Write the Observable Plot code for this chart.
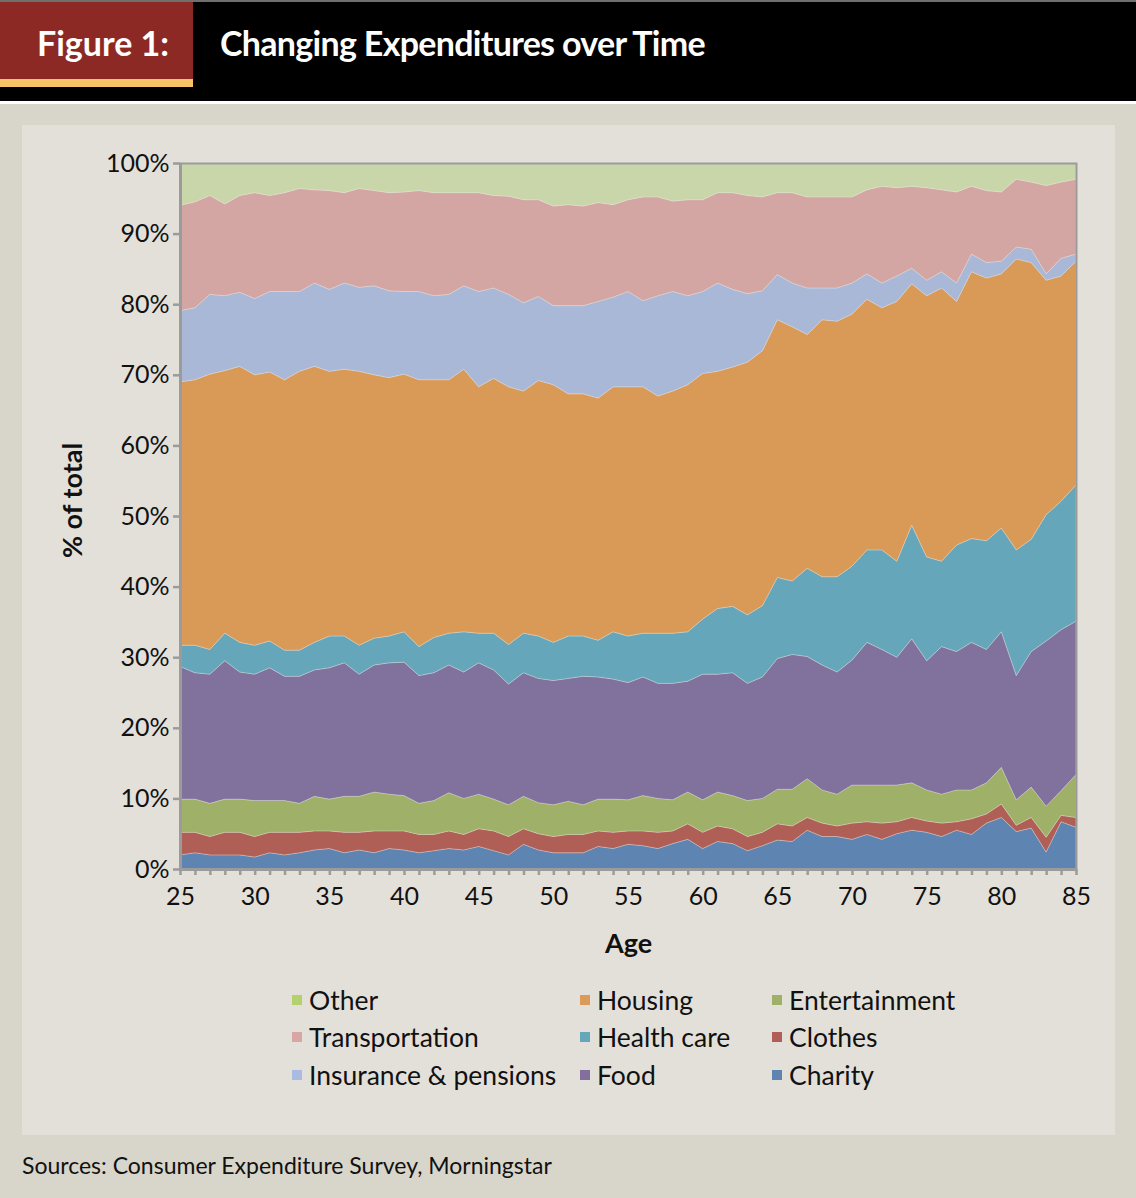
<!DOCTYPE html>
<html>
<head>
<meta charset="utf-8">
<script src="https://cdn.jsdelivr.net/npm/d3@7"></script>
<script src="https://cdn.jsdelivr.net/npm/@observablehq/plot@0.6"></script>
<style>
  body { margin: 0; background: #d8d5ca; }
  #page { position: relative; width: 1136px; height: 1198px; background: #d8d5ca; overflow: hidden; font-family: Lato, "Open Sans", sans-serif; color: #111; }
  .abs { position: absolute; }
  #band { left: 0; top: 0; width: 1136px; height: 101px; background: #000; border-top: 2px solid #6f6f6f; box-sizing: border-box; }
  #redbox { left: 0; top: 2px; width: 193px; height: 77px; background: #8c2925; }
  #gold { left: 0; top: 79px; width: 193px; height: 8px; background: #f6c466; }
  #wline { left: 0; top: 101px; width: 1136px; height: 3px; background: #ffffff; }
  #panel { left: 22px; top: 125px; width: 1093px; height: 1010px; background: #e3e0d9; }
  .hdrtxt { color: #fff; font-weight: 700; font-size: 34px; line-height: 1; white-space: nowrap; }
  #chart { left: 0; top: 125px; }
  .leg { position: absolute; height: 30px; display: flex; align-items: center; font-size: 26.5px; line-height: 1; white-space: nowrap; color: #111; }
  .leg .sw { width: 10px; height: 10px; margin-right: 7px; flex: none; }
  #src { left: 22px; top: 1154px; font-size: 23px; line-height: 1; white-space: nowrap; color: #111; }
</style>
</head>
<body>
<div id="page">
  <div id="band" class="abs"></div>
  <div id="redbox" class="abs"></div>
  <div id="gold" class="abs"></div>
  <div id="wline" class="abs"></div>
  <div class="abs hdrtxt" style="left:37px; top:26px; letter-spacing:0px;">Figure 1:</div>
  <div class="abs hdrtxt" style="left:220px; top:26px; letter-spacing:-0.7px;">Changing Expenditures over Time</div>
  <div id="panel" class="abs"></div>
  <div id="chart" class="abs"></div>
  <div id="legend"></div>
  <div id="src" class="abs">Sources: Consumer Expenditure Survey, Morningstar</div>
</div>
<script>
// Ages 25..85
const ages = d3.range(25, 86);

// Share of total expenditure (%) per age
const charity = [2.0,2.3,2.0,2.0,2.0,1.7,2.3,2.0,2.3,2.7, 2.9,2.3,2.7,2.3,2.9,2.7,2.3,2.6,2.9,2.7, 3.2,2.6,2.0,3.5,2.7,2.3,2.3,2.3,3.2,2.9, 3.5,3.3,2.9,3.6,4.2,2.9,3.9,3.6,2.6,3.3, 4.1,3.9,5.5,4.6,4.6,4.2,4.9,4.2,5.0,5.5, 5.2,4.6,5.5,4.9,6.5,7.3,5.3,5.8,2.4,6.7, 5.9];
const clothes = [3.2,2.9,2.6,3.2,3.2,2.9,2.9,3.2,2.9,2.7, 2.5,2.9,2.5,3.1,2.5,2.7,2.6,2.3,2.5,2.2, 2.5,2.8,2.6,2.2,2.3,2.3,2.6,2.6,2.2,2.3, 1.9,2.1,2.3,1.8,2.2,2.3,2.2,2.1,2.0,1.9, 2.3,2.2,1.8,1.9,1.5,2.3,1.8,2.3,1.7,1.8, 1.6,1.9,1.2,2.2,1.3,1.9,0.9,1.5,2.1,0.9, 1.4];
const entertainment = [4.7,4.7,4.7,4.7,4.7,5.1,4.5,4.5,4.1,4.9, 4.5,5.1,5.1,5.5,5.2,5.0,4.4,4.8,5.4,5.1, 4.9,4.5,4.5,4.6,4.4,4.5,4.7,4.2,4.5,4.7, 4.4,5.0,4.8,4.4,4.5,4.6,4.8,4.7,5.1,4.8, 4.9,5.2,5.5,4.7,4.5,5.4,5.2,5.4,5.2,4.9, 4.4,4.1,4.5,4.1,4.4,5.2,3.6,4.3,4.4,3.5, 6.1];
const food = [18.8,17.9,18.3,19.6,18.0,17.9,18.8,17.6,18.0,17.9, 18.6,18.9,17.3,18.0,18.6,18.9,18.1,18.1,18.1,17.9, 18.6,18.3,17.1,17.5,17.6,17.6,17.4,18.2,17.3,17.0, 16.6,16.8,16.3,16.5,15.7,17.8,16.7,17.4,16.6,17.2, 18.5,19.1,17.3,17.7,17.3,17.7,20.2,19.2,18.1,20.4, 18.3,20.9,19.6,20.9,18.9,19.2,17.6,19.2,23.4,22.8, 21.7];
const healthCare = [3.0,3.9,3.5,3.9,4.2,4.1,3.8,3.7,3.7,3.9, 4.5,3.8,4.1,3.8,3.8,4.3,4.1,5.0,4.5,5.7, 4.2,5.2,5.6,5.6,6.0,5.4,6.0,5.7,5.2,6.7, 6.6,6.2,7.1,7.1,7.0,7.8,9.3,9.4,9.7,10.1, 11.5,10.4,12.5,12.5,13.5,13.3,13.1,14.1,13.6,16.1, 14.7,12.1,15.1,14.7,15.4,14.7,17.8,15.9,17.9,18.2, 19.3];
const housing = [37.3,37.6,39.0,37.2,39.1,38.3,38.1,38.3,39.5,39.1, 37.5,37.8,38.8,37.3,36.6,36.5,37.8,36.5,35.9,37.2, 34.9,36.1,36.5,34.3,36.2,36.5,34.3,34.3,34.3,34.7, 35.3,34.9,33.6,34.3,35.0,34.8,33.6,33.9,35.8,36.1, 36.5,36.0,33.1,36.4,36.2,35.7,35.5,34.3,36.8,34.2, 37.0,38.7,34.5,37.8,37.2,36.0,41.2,39.2,33.2,31.9, 31.7];
const insurance = [10.1,10.2,11.3,10.6,10.5,10.8,11.4,12.5,11.3,11.8, 11.6,12.2,11.9,12.6,12.3,11.7,12.5,11.9,12.1,11.8, 13.5,12.8,13.1,12.5,11.9,11.2,12.5,12.5,13.7,12.7, 13.5,12.2,14.2,14.1,12.6,11.6,12.5,11.0,9.7,8.5, 6.4,6.2,6.6,4.5,4.7,4.4,3.6,3.5,3.6,2.2, 2.2,2.3,2.6,2.5,2.2,1.8,1.7,1.9,0.9,2.5, 1.0];
const transportation = [14.9,15.0,14.0,13.0,13.7,15.0,13.6,14.0,14.6,13.2, 14.0,12.8,14.0,13.5,13.9,14.1,14.3,14.6,14.4,13.2, 14.0,13.1,13.9,14.6,13.7,14.1,14.3,14.1,14.0,13.1, 13.0,14.7,14.0,12.8,13.6,13.0,12.8,13.7,13.9,13.3, 11.6,12.8,12.9,12.9,12.9,12.2,11.9,13.7,12.5,11.6, 13.1,11.6,12.9,9.6,10.2,9.8,9.6,9.5,12.5,10.8, 10.6];
const other = [6.0,5.5,4.6,5.8,4.6,4.2,4.6,4.2,3.6,3.8, 3.9,4.2,3.6,3.9,4.2,4.1,3.9,4.2,4.2,4.2, 4.2,4.6,4.7,5.2,5.2,6.1,5.9,6.1,5.6,5.9, 5.2,4.8,4.8,5.4,5.2,5.2,4.2,4.2,4.6,4.8, 4.2,4.2,4.8,4.8,4.8,4.8,3.8,3.3,3.5,3.3, 3.5,3.8,4.1,3.3,3.9,4.1,2.3,2.7,3.2,2.7, 2.3];

// Stacking order, bottom to top
const seriesNames = ["Charity","Clothes","Entertainment","Food","Health care","Housing","Insurance & pensions","Transportation","Other"];
const seriesValues = [charity, clothes, entertainment, food, healthCare, housing, insurance, transportation, other];
const areaColors = ["#5e84b1","#b05f57","#9fb068","#81719d","#65a6ba","#d99a58","#a9b8d7","#d4a6a3","#c9d6aa"];
const legendColors = {"Other":"#b3d26d","Transportation":"#d9a6a6","Insurance & pensions":"#a9bbe0","Housing":"#db9a58","Health care":"#65a6ba","Food":"#826f9e","Entertainment":"#9fb068","Clothes":"#b05f57","Charity":"#5e84b1"};
// Legend layout: columns
const legendColumns = [["Other","Transportation","Insurance & pensions"],["Housing","Health care","Food"],["Entertainment","Clothes","Charity"]];
const yTicks = d3.range(0, 101, 10);

const data = [];
seriesNames.forEach((s, i) => {
  ages.forEach((a, j) => data.push({age: a, series: s, value: seriesValues[i][j]}));
});

const axisGrey = "#9b9b9b";
const chart = Plot.plot({
  width: 1136,
  height: 840,
  marginLeft: 180,
  marginRight: 60,
  marginTop: 38,
  marginBottom: 96,
  style: {fontFamily: "Lato, 'Open Sans', sans-serif", background: "transparent", color: "#111", overflow: "visible"},
  x: {domain: [25, 85]},
  y: {domain: [0, 100]},
  color: {domain: seriesNames, range: areaColors},
  marks: [
    Plot.areaY(data, {x: "age", y: "value", fill: "series", order: seriesNames, curve: "linear", stroke: "#f2efe8", strokeWidth: 0.6, strokeOpacity: 0.5}),
    Plot.frame({stroke: axisGrey, strokeWidth: 2}),
    Plot.ruleX([25], {stroke: axisGrey, strokeWidth: 3}),
    Plot.ruleY([0], {stroke: axisGrey, strokeWidth: 3}),
    Plot.axisY({ticks: yTicks, tickFormat: d => d + "%", tickSize: 7, tickPadding: 4, stroke: axisGrey, strokeWidth: 2.5, fill: "#111", fontSize: 25, label: null}),
    Plot.axisX({ticks: ages, tickFormat: d => d % 5 === 0 ? String(d) : "", tickSize: 6, tickPadding: 12, stroke: axisGrey, strokeWidth: 2.5, fill: "#111", fontSize: 25, label: null}),
    Plot.text(["Age"], {frameAnchor: "bottom", lineAnchor: "middle", dy: 75, fontWeight: "bold", fontSize: 27, fill: "#111"}),
    Plot.text(["% of total"], {frameAnchor: "left", textAnchor: "middle", dx: -107, dy: -16, rotate: -90, fontWeight: "bold", fontSize: 27, fill: "#111"})
  ]
});
document.getElementById("chart").appendChild(chart);

// Legend
const legendX = [292, 580, 772];
const legendY = [985, 1022, 1060];
const legend = document.getElementById("legend");
legendColumns.forEach((col, ci) => {
  col.forEach((name, ri) => {
    const d = document.createElement("div");
    d.className = "leg";
    d.style.left = legendX[ci] + "px";
    d.style.top = legendY[ri] + "px";
    const sw = document.createElement("span");
    sw.className = "sw";
    sw.style.background = legendColors[name];
    const t = document.createElement("span");
    t.textContent = name;
    d.appendChild(sw);
    d.appendChild(t);
    legend.appendChild(d);
  });
});
</script>
</body>
</html>
